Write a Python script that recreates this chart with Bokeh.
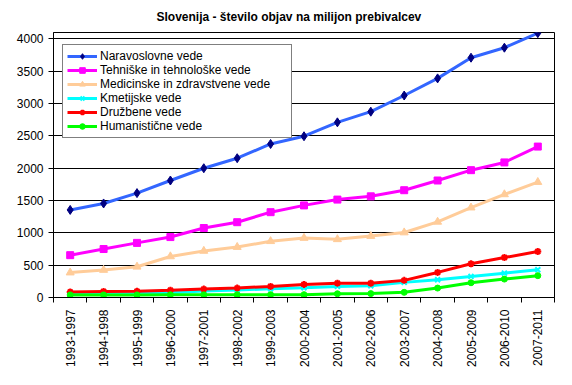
from math import pi
from bokeh.plotting import figure
from bokeh.models import Range1d, FixedTicker, Legend, LegendItem
from bokeh.embed import file_html
from bokeh.resources import INLINE

periods = ["1993-1997", "1994-1998", "1995-1999", "1996-2000", "1997-2001",
           "1998-2002", "1999-2003", "2000-2004", "2001-2005", "2002-2006",
           "2003-2007", "2004-2008", "2005-2009", "2006-2010", "2007-2011"]

naravoslovne = [1355, 1455, 1615, 1810, 2000, 2155, 2375, 2495, 2710, 2875, 3125, 3390, 3710, 3865, 4090]
tehniske = [655, 750, 845, 935, 1075, 1165, 1320, 1425, 1515, 1565, 1660, 1810, 1970, 2090, 2335]
medicinske = [385, 425, 475, 635, 720, 780, 870, 920, 900, 950, 1005, 1170, 1390, 1595, 1785]
kmetijske = [55, 58, 62, 75, 100, 115, 135, 150, 172, 181, 234, 274, 326, 377, 430]
druzbene = [85, 93, 97, 112, 130, 146, 172, 203, 222, 220, 265, 388, 522, 618, 711]
humanisticne = [40, 40, 40, 42, 42, 42, 44, 44, 58, 60, 80, 146, 228, 285, 338]

series_names = ["Naravoslovne vede", "Tehniške in tehnološke vede",
                "Medicinske in zdravstvene vede", "Kmetijske vede",
                "Družbene vede", "Humanistične vede"]

y_ticks = [0, 500, 1000, 1500, 2000, 2500, 3000, 3500, 4000]
title_text = "Slovenija - število objav na milijon prebivalcev"

FONT = "Liberation Sans"
LEFT = 53

x = list(range(1, len(periods) + 1))

p = figure(width=556, height=369, output_backend="svg", toolbar_location=None,
           x_range=Range1d(0.5, len(periods) + 0.5), y_range=Range1d(0, 4100),
           min_border_left=LEFT, min_border_right=2, min_border_top=32,
           min_border_bottom=71, background_fill_color="white",
           border_fill_color="white")

p.title.text = title_text
p.title.text_font = FONT
p.title.text_font_size = "12px"
p.title.text_font_style = "bold"
p.title.text_color = "black"
p.title.align = "left"
p.title.vertical_align = "top"
p.title.standoff = 14
p.title.offset = 156 - LEFT

# x axis
p.xaxis.ticker = FixedTicker(ticks=x, minor_ticks=[i + 0.5 for i in range(0, len(periods) + 1)])
p.xaxis.major_label_overrides = {i: lab for i, lab in zip(x, periods)}
p.xaxis.major_label_orientation = pi / 2
p.xaxis.major_tick_line_color = None
p.xaxis.major_tick_out = 0
p.xaxis.major_tick_in = 0
p.xaxis.major_label_standoff = 7
p.xaxis.minor_tick_out = 5
p.xaxis.minor_tick_in = 0
p.xaxis.minor_tick_line_color = "black"
p.xaxis.axis_line_color = "black"
p.xaxis.major_label_text_font = FONT
p.xaxis.major_label_text_font_size = "12px"
p.xaxis.major_label_text_color = "black"

# y axis
p.yaxis.ticker = FixedTicker(ticks=y_ticks)
p.yaxis.major_tick_out = 5
p.yaxis.major_tick_in = 0
p.yaxis.minor_tick_line_color = None
p.yaxis.major_tick_line_color = "black"
p.yaxis.axis_line_color = "black"
p.yaxis.major_label_standoff = 5
p.yaxis.major_label_text_font = FONT
p.yaxis.major_label_text_font_size = "12px"
p.yaxis.major_label_text_color = "black"

p.xgrid.visible = False
p.ygrid.ticker = FixedTicker(ticks=y_ticks)
p.ygrid.grid_line_color = "black"
p.ygrid.grid_line_width = 1

p.outline_line_color = "black"
p.outline_line_width = 1
p.outline_line_alpha = 1

styles = [
    (naravoslovne, "#3366FF", "diamond", "#000080", "#000080", 9, 1),
    (tehniske, "#FF00FF", "square", "#FF00FF", "#FF00FF", 7, 1),
    (medicinske, "#FFCC99", "triangle", "#FFCC99", "#FFCC99", 8, 1),
    (kmetijske, "#00FFFF", "x", "#00FFFF", "#00FFFF", 7, 2),
    (druzbene, "#FF0000", "asterisk", "#FF0000", "#FF0000", 7, 2),
    (humanisticne, "#00FF00", "circle", "#00FF00", "#00FF00", 6, 1),
]

items = []
for name, (vals, color, marker, fill, mline, size, mw) in zip(series_names, styles):
    r1 = p.line(x, vals, line_color=color, line_width=3)
    r2 = p.scatter(x, vals, marker=marker, size=size, fill_color=fill,
                   line_color=mline, line_width=mw)
    items.append(LegendItem(label=name, renderers=[r1, r2]))

legend = Legend(items=items, location=(62 - LEFT, 159), orientation="vertical",
                label_text_font=FONT, label_text_font_size="12px",
                label_text_color="black", label_height=14, glyph_height=14,
                glyph_width=30, label_standoff=3, spacing=0, padding=4,
                margin=0, label_width=187, border_line_color="black",
                border_line_width=1, background_fill_color="white",
                background_fill_alpha=1)
p.add_layout(legend)

open("out.html", "w").write(file_html(p, INLINE))
